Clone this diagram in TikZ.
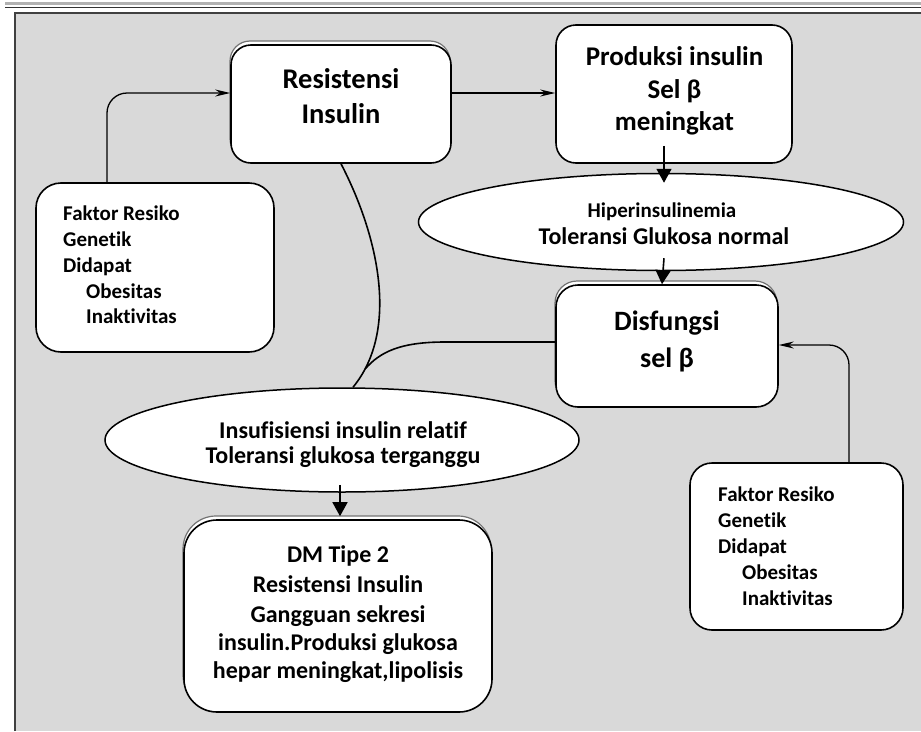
\documentclass[tikz,border=0pt]{standalone}
\usepackage{fontspec}
\setmainfont{Carlito}[Ligatures={NoCommon,NoRequired,NoContextual}]
\usetikzlibrary{shapes.geometric,arrows.meta,shadows}
\definecolor{bgray}{HTML}{D9D9D9}
\tikzset{
  box/.style={draw,line width=1.6pt,fill=white,rectangle,inner sep=0pt},
  oval/.style={draw,line width=1.5pt,fill=white,ellipse,inner sep=0pt},
  shd/.style={copy shadow={shadow xshift=-1pt,shadow yshift=4pt,fill=white,draw=black!55,line width=1.2pt}},
  tx/.style={anchor=base,inner sep=0pt,font=\bfseries\fontsize{#1}{#1}\selectfont},
  tl/.style={anchor=base west,inner sep=0pt,font=\bfseries\fontsize{#1}{#1}\selectfont},
  conn/.style={line width=1.3pt},
  thinarrow/.style={conn,-{Stealth[length=15pt,width=7pt,inset=5pt]}},
  bigarrow/.style={line width=1.6pt,-{Triangle[length=14pt,width=15pt]}},
}
\begin{document}
\begin{tikzpicture}[x=1pt,y=-1pt]
\useasboundingbox (0,0) rectangle (921,731);
\fill[white] (0,0) rectangle (921,731);
\draw[black!30,line width=2.5pt] (5,3.5) -- (921,3.5);
\draw[black!80,line width=1pt] (5,7) -- (921,7);
\fill[bgray] (15,13) rectangle (921,731);
\draw[black!75,line width=1.8pt] (15,731) -- (15,13) -- (921,13);

% boxes
\node[box,shd,rounded corners=20pt,minimum width=220pt,minimum height=118pt] (ri) at (341,104) {};
\node[box,rounded corners=20pt,minimum width=236pt,minimum height=138pt] (prod) at (674,94) {};
\node[oval,minimum width=485pt,minimum height=97pt] (hip) at (661,222) {};
\node[box,shd,rounded corners=22pt,minimum width=222pt,minimum height=122pt] (dis) at (667,346) {};
\node[box,rounded corners=25pt,minimum width=238pt,minimum height=169pt] (lf) at (155,267.5) {};
\node[box,rounded corners=22pt,minimum width=213pt,minimum height=167pt] (rf) at (796.5,546.5) {};
\node[oval,minimum width=474pt,minimum height=104pt] (ins) at (342,440) {};
\node[box,shd,rounded corners=33pt,minimum width=308pt,minimum height=192pt] (dm) at (338,616) {};

% texts
\foreach \t/\y in {Resistensi/88,Insulin/123}
  \node[tx=28.5] (t-ri-\y) at (341,\y) {\t};
\foreach \t/\y in {Produksi insulin/65,Sel β/98,meningkat/130}
  \node[tx=27] (t-pr-\y) at (674.5,\y) {\t};
\node[tx=21] (t-hi-1) at (662,217) {Hiperinsulinemia};
\node[tx=24] (t-hi-2) at (664,244) {Toleransi Glukosa normal};
\foreach \t/\y in {Disfungsi/330,sel β/367}
  \node[tx=28] (t-di-\y) at (667,\y) {\t};
\foreach \t/\y in {Insufisiensi insulin relatif/438,Toleransi glukosa terganggu/463}
  \node[tx=24] (t-in-\y) at (343,\y) {\t};
\foreach \t/\y in {DM Tipe 2/562,Resistensi Insulin/592,Gangguan sekresi/622,insulin.Produksi glukosa/650,{hepar meningkat,lipolisis}/678}
  \node[tx=24] (t-dm-\y) at (338,\y) {\t};
\foreach \t/\x/\y in {Faktor Resiko/63/220,Genetik/63/246,Didapat/63/272,Obesitas/86/298,Inaktivitas/86/323}
  \node[tl=21] (t-lf-\y) at (\x,\y) {\t};
\foreach \t/\x/\y in {Faktor Resiko/718/501,Genetik/718/527,Didapat/718/553,Obesitas/742/579,Inaktivitas/742/605}
  \node[tl=21] (t-rf-\y) at (\x,\y) {\t};

% connectors
\draw[thinarrow,rounded corners=20pt] ([xshift=-48pt]lf.north) |- ([yshift=11pt]ri.west);
\draw[thinarrow] ([yshift=11pt]ri.east) -- ([yshift=1pt]prod.west);
\draw[bigarrow] ([xshift=-10pt,yshift=18pt]prod.south) -- ([xshift=3pt,yshift=-10pt]hip.north);
\draw[bigarrow] ([xshift=3pt,yshift=13pt]hip.south) -- ([xshift=-5pt]dis.north);
\draw[thinarrow,rounded corners=20pt] ([xshift=52.5pt]rf.north) |- ([yshift=1pt]dis.east);
\draw[bigarrow] ([xshift=-2pt,yshift=8pt]ins.south) -- ([xshift=2pt,yshift=3pt]dm.north);
\draw[line width=1.6pt] (ri.south) .. controls (378,235) and (400,330) .. coordinate[pos=0.9] (join) ([xshift=11pt]ins.north);
\draw[line width=1.6pt] ([yshift=4pt]dis.west) -- (445,342) .. controls (400,342) and (380,352) .. (join);
\end{tikzpicture}
\end{document}
